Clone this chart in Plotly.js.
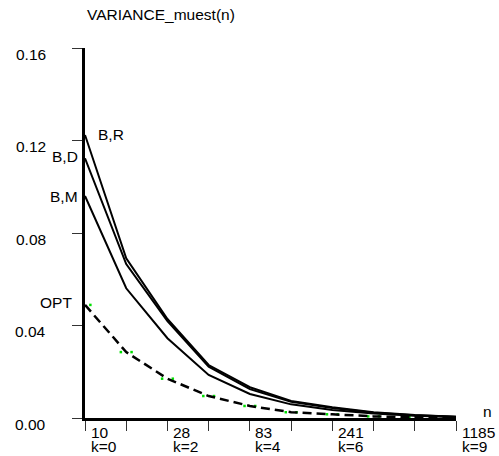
<!DOCTYPE html>
<html>
<head>
<meta charset="utf-8">
<script src="https://cdn.plot.ly/plotly-3.0.1.min.js"></script>
<style>
  html, body { margin: 0; padding: 0; background: #fff; }
  #chart { width: 499px; height: 456px; }
</style>
</head>
<body>
<div id="chart"></div>
<script>
// Step index k and the sample size n shown under selected steps
const kSteps = [0, 1, 2, 3, 4, 5, 6, 7, 8, 9];
const labelK = [0, 2, 4, 6, 9];
const labelN = ['10', '28', '83', '241', '1185'];

// Variance of the estimator per step
const varBR  = [0.1224, 0.0691, 0.0428, 0.0229, 0.0133, 0.0074, 0.0046, 0.0025, 0.0013, 0.0005];
const varBD  = [0.1123, 0.0666, 0.0419, 0.0222, 0.0125, 0.0070, 0.0043, 0.0023, 0.0012, 0.0005];
const varBM  = [0.0960, 0.0561, 0.0345, 0.0186, 0.0104, 0.0059, 0.0035, 0.0019, 0.0010, 0.0004];
const varOPT = [0.0489, 0.0285, 0.0170, 0.0095, 0.0052, 0.0025, 0.0016, 0.0007, 0.0003, 0.0001];

const yTicks = [0, 0.04, 0.08, 0.12, 0.16];

const FONT = 'Liberation Sans, Arial, sans-serif';
const FS = 15.5;

// green guide dots flanking each OPT point
const dotGap = 0.13;
const dotX = [], dotY = [];
kSteps.forEach((k, i) => {
  dotX.push(k - dotGap, k + dotGap);
  dotY.push(varOPT[i], varOPT[i]);
});

const solid = { color: '#000', width: 2 };

const traces = [
  { x: dotX, y: dotY, mode: 'markers', type: 'scatter', hoverinfo: 'skip',
    marker: { symbol: 'square', size: 2.5, color: '#00e000', line: { width: 0 } } },
  { x: kSteps, y: varOPT, mode: 'lines', type: 'scatter', name: 'OPT',
    line: { color: '#000', width: 2.5, dash: '9px,5px' } },
  { x: kSteps, y: varBM, mode: 'lines', type: 'scatter', name: 'B,M', line: solid },
  { x: kSteps, y: varBD, mode: 'lines', type: 'scatter', name: 'B,D', line: solid },
  { x: kSteps, y: varBR, mode: 'lines', type: 'scatter', name: 'B,R', line: solid }
];

const txt = (t, extra) => Object.assign({
  text: t, showarrow: false, font: { family: FONT, size: FS, color: '#000' }
}, extra);

const annotations = [];

// chart title above the value axis
annotations.push(txt('VARIANCE_muest(n)', {
  xref: 'paper', yref: 'paper', x: 0, y: 1, xanchor: 'left', yanchor: 'middle', yshift: 34
}));

// axis name for n
annotations.push(txt('n', {
  xref: 'paper', yref: 'paper', x: 1, y: 0, xanchor: 'center', yanchor: 'middle', xshift: 31, yshift: 6.5
}));

// value axis labels
yTicks.forEach(v => annotations.push(txt(v.toFixed(2), {
  xref: 'paper', yref: 'y', x: 0, y: v, xanchor: 'right', yanchor: 'middle', xshift: -37, yshift: -6
})));

// step axis labels: n on the first line, k on the second
labelK.forEach((k, i) => {
  annotations.push(txt(labelN[i], {
    xref: 'x', yref: 'paper', x: k, y: 0, xanchor: 'left', yanchor: 'middle', xshift: 3.5, yshift: -14
  }));
  annotations.push(txt('k=' + k, {
    xref: 'x', yref: 'paper', x: k, y: 0, xanchor: 'left', yanchor: 'middle', xshift: 3.5, yshift: -28
  }));
});

// series names next to their first point
annotations.push(txt('B,R', { x: 0, y: varBR[0], xanchor: 'left', yanchor: 'middle', xshift: 11, yshift: 0 }));
annotations.push(txt('B,D', { x: 0, y: varBD[0], xanchor: 'right', yanchor: 'middle', xshift: -5.5, yshift: 2 }));
annotations.push(txt('B,M', { x: 0, y: varBM[0], xanchor: 'right', yanchor: 'middle', xshift: -5.5, yshift: 0 }));
annotations.push(txt('OPT', { x: 0, y: varOPT[0], xanchor: 'right', yanchor: 'middle', xshift: -11, yshift: 2 }));

const layout = {
  width: 499, height: 456,
  margin: { l: 85, r: 43, t: 48, b: 38, pad: 0 },
  paper_bgcolor: '#fff', plot_bgcolor: '#fff',
  showlegend: false,
  font: { family: FONT, size: FS, color: '#000' },
  xaxis: {
    range: [0, 9], tickmode: 'array', tickvals: kSteps, showticklabels: false,
    ticks: 'outside', ticklen: 10, tickwidth: 1, tickcolor: '#333',
    showline: true, linecolor: '#000', linewidth: 3,
    showgrid: false, zeroline: false, fixedrange: true
  },
  yaxis: {
    range: [0, 0.16], tickmode: 'array', tickvals: yTicks, showticklabels: false,
    ticks: 'outside', ticklen: 10, tickwidth: 1, tickcolor: '#333',
    showline: true, linecolor: '#000', linewidth: 3,
    showgrid: false, zeroline: false, fixedrange: true
  },
  annotations: annotations
};

Plotly.newPlot('chart', traces, layout, { displayModeBar: false, staticPlot: true });
</script>
</body>
</html>
